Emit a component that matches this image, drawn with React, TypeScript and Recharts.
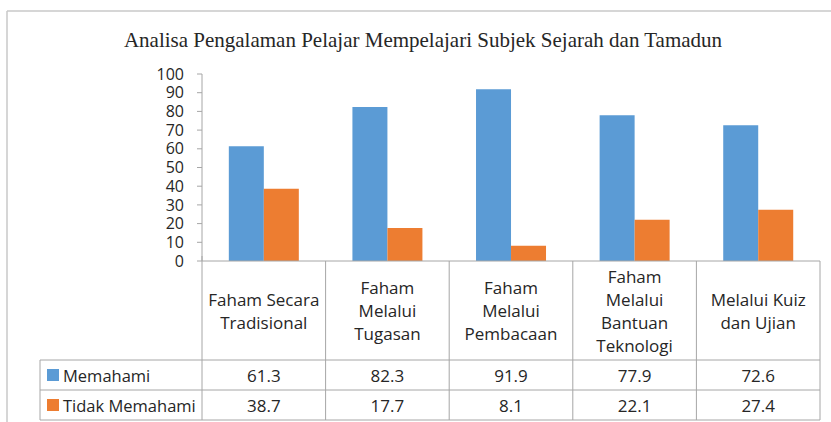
import React from 'react';
import { BarChart, Bar, XAxis, YAxis } from 'recharts';

// Data
const categories: string[] = [
  'Faham Secara\nTradisional',
  'Faham\nMelalui\nTugasan',
  'Faham\nMelalui\nPembacaan',
  'Faham\nMelalui\nBantuan\nTeknologi',
  'Melalui Kuiz\ndan Ujian',
];
const memahami: number[] = [61.3, 82.3, 91.9, 77.9, 72.6];
const tidakMemahami: number[] = [38.7, 17.7, 8.1, 22.1, 27.4];
const yTicks: number[] = [0, 10, 20, 30, 40, 50, 60, 70, 80, 90, 100];
const seriesNames: string[] = ['Memahami', 'Tidak Memahami'];

const chartData = categories.map((c, i) => ({
  name: c,
  memahami: memahami[i],
  tidak: tidakMemahami[i],
}));

const BLUE = '#5B9BD5';
const ORANGE = '#ED7D31';
const GRID = '#a6a6a6';
const TEXT = '#262626';
const FONT = '"Open Sans", "Liberation Sans", sans-serif';

const W = 831;
const H = 422;
const PLOT_LEFT = 202;
const PLOT_RIGHT = 820;
const PLOT_TOP = 74;
const PLOT_BOTTOM = 261;
const BAND = (PLOT_RIGHT - PLOT_LEFT) / categories.length;

// table rows, relative to the x axis line
const HEADER_H = 99;
const ROW_H = 30;

const TableTick = (props: any) => {
  const { x, y, payload } = props;
  const i = payload.index;
  const half = BAND / 2;
  const lines = categories[i].split('\n');
  const lh = 23;
  const startY = y + HEADER_H / 2 - ((lines.length - 1) * lh) / 2;
  return (
    <g>
      {i === 0 && (
        <line x1={x - half} y1={y - 5} x2={x - half} y2={y + HEADER_H + ROW_H * 2} stroke={GRID} strokeWidth={1} />
      )}
      <line x1={x + half} y1={y} x2={x + half} y2={y + HEADER_H + ROW_H * 2} stroke={GRID} strokeWidth={1} />
      {lines.map((l, k) => (
        <text key={k} x={x} y={startY + k * lh} textAnchor="middle" dominantBaseline="central"
          fontFamily={FONT} fontSize={17} fill={TEXT}>{l}</text>
      ))}
      <text x={x} y={y + HEADER_H + ROW_H / 2} textAnchor="middle" dominantBaseline="central"
        fontFamily={FONT} fontSize={17} fill={TEXT}>{memahami[i].toFixed(1)}</text>
      <text x={x} y={y + HEADER_H + ROW_H * 1.5} textAnchor="middle" dominantBaseline="central"
        fontFamily={FONT} fontSize={17} fill={TEXT}>{tidakMemahami[i].toFixed(1)}</text>
    </g>
  );
};

const App: React.FC = () => {
  const rowTop = PLOT_BOTTOM + HEADER_H;
  return (
    <div style={{ position: 'absolute', left: 0, top: 0, width: W, height: H, background: '#fff', overflow: 'hidden' }}>
      <BarChart
        width={W}
        height={H}
        data={chartData}
        margin={{ top: PLOT_TOP, right: W - PLOT_RIGHT, bottom: 0, left: 0 }}
        barCategoryGap="21.7%"
        barGap={0}
      >
        <YAxis
          width={PLOT_LEFT}
          domain={[0, 100]}
          ticks={yTicks}
          interval={0}
          tickSize={5}
          tickMargin={13}
          axisLine={{ stroke: GRID }}
          tickLine={{ stroke: GRID }}
          tick={{ fontFamily: FONT, fontSize: 16, fill: TEXT }}
        />
        <XAxis
          dataKey="name"
          height={H - PLOT_BOTTOM}
          interval={0}
          tickSize={0}
          tickMargin={0}
          axisLine={{ stroke: GRID }}
          tickLine={false}
          tick={<TableTick />}
        />
        <Bar dataKey="memahami" name={seriesNames[0]} fill={BLUE} isAnimationActive={false} />
        <Bar dataKey="tidak" name={seriesNames[1]} fill={ORANGE} isAnimationActive={false} />
      </BarChart>
      <svg width={W} height={H} style={{ position: 'absolute', left: 0, top: 0, pointerEvents: 'none' }}>
        {/* chart frame */}
        <line x1={7} y1={11} x2={W} y2={11} stroke="#c8c8c8" strokeWidth={1.5} />
        <line x1={7} y1={11} x2={7} y2={H} stroke="#c8c8c8" strokeWidth={1.5} />
        <text x={423} y={40} textAnchor="middle" dominantBaseline="central"
          fontFamily='"Liberation Serif", "Times New Roman", serif' fontSize={21} fill={TEXT}>
          Analisa Pengalaman Pelajar Mempelajari Subjek Sejarah dan Tamadun
        </text>
        {/* data table legend column */}
        <line x1={40} y1={rowTop} x2={PLOT_RIGHT} y2={rowTop} stroke={GRID} />
        <line x1={40} y1={rowTop + ROW_H} x2={PLOT_RIGHT} y2={rowTop + ROW_H} stroke={GRID} />
        <line x1={40} y1={rowTop + ROW_H * 2} x2={PLOT_RIGHT} y2={rowTop + ROW_H * 2} stroke={GRID} />
        <line x1={40} y1={rowTop} x2={40} y2={rowTop + ROW_H * 2} stroke={GRID} />
        {seriesNames.map((s, k) => (
          <g key={s}>
            <rect x={47} y={rowTop + ROW_H * k + 9} width={12} height={12} fill={k === 0 ? BLUE : ORANGE} />
            <text x={63} y={rowTop + ROW_H * k + ROW_H / 2} dominantBaseline="central"
              fontFamily={FONT} fontSize={16.5} fill={TEXT}>{s}</text>
          </g>
        ))}
      </svg>
    </div>
  );
};

export default App;
